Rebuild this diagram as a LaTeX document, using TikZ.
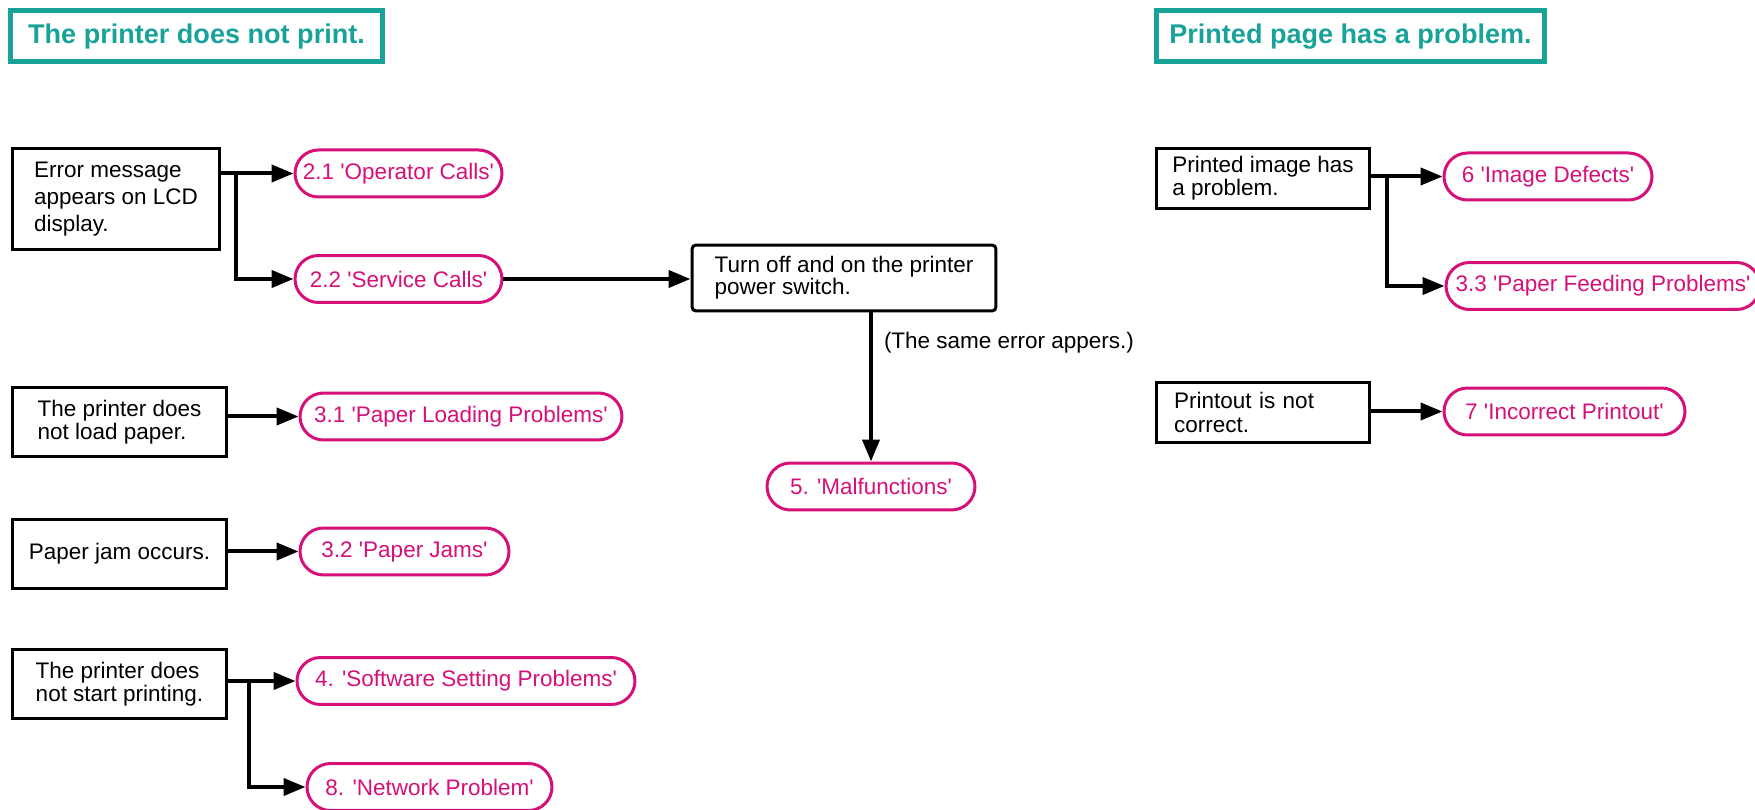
\documentclass[tikz,border=0pt]{standalone}
\usepackage{fontspec}
\setmainfont{Liberation Sans}
\usepackage{tikz}
\usetikzlibrary{arrows.meta,calc}
\definecolor{headteal}{RGB}{24,162,152}
\definecolor{refpink}{RGB}{214,16,120}
\newcommand{\pq}{\textquotesingle}

\begin{document}
\begin{tikzpicture}[x=0.02cm,y=-0.02cm,>={Triangle[length=0.44cm,width=0.34cm]},
  hdr/.style={draw=headteal,line width=0.1cm,text=headteal,font=\fontsize{15.4}{18}\selectfont\bfseries,minimum height=1.02cm,inner sep=0pt},
  box/.style={draw,line width=0.06cm,align=left,font=\fontsize{12.8}{13.2}\selectfont,inner sep=0pt},
  pill/.style={draw=refpink,line width=0.06cm,text=refpink,rounded corners=0.47cm,minimum height=0.94cm,inner sep=0pt,font=\fontsize{12.8}{13.2}\selectfont},
  arr/.style={->,line width=0.08cm}]
\useasboundingbox (0,0) rectangle (1755,810);
\node[hdr,minimum width=7.46cm] (notprint) at (196.5,36.5) {The printer does not print.};
\node[hdr,minimum width=7.78cm] (pageprob) at (1350.5,36.5) {Printed page has a problem.};

\node[box,minimum width=4.16cm,minimum height=2.04cm,font=\fontsize{12.8}{15.2}\selectfont] (err) at (116,199) {Error message\\appears on LCD\\display.};
\node[box,minimum width=4.3cm,minimum height=1.4cm] (load) at (119.5,422) {The printer does\\not load paper.};
\node[box,minimum width=4.3cm,minimum height=1.4cm,align=center] (jam) at (119.5,554) {Paper jam occurs.};
\node[box,minimum width=4.3cm,minimum height=1.4cm] (start) at (119.5,684) {The printer does\\not start printing.};
\node[box,minimum width=6.08cm,minimum height=1.32cm,rounded corners=0.08cm,font=\fontsize{12.8}{12.5}\selectfont] (off) at (844,278) {Turn off and on the printer\\power switch.};
\node[box,minimum width=4.28cm,minimum height=1.22cm] (img) at (1263,178.5) {Printed image has\\a problem.};
\node[box,text width=3.56cm,inner xsep=0.36cm,minimum height=1.22cm] (out) at (1263,412.5) {Printout is not\\correct.};

\node[pill,minimum width=4.14cm] (p21) at (398.5,173.5) {2.1 \pq Operator Calls\pq};
\node[pill,minimum width=4.14cm] (p22) at (398.5,279) {2.2 \pq Service Calls\pq};
\node[pill,minimum width=6.44cm] (p31) at (461,416.5) {3.1 \pq Paper Loading Problems\pq};
\node[pill,minimum width=4.18cm] (p32) at (404.5,551.5) {3.2 \pq Paper Jams\pq};
\node[pill,minimum width=6.76cm] (p4) at (466,681) {4. \pq Software Setting Problems\pq};
\node[pill,minimum width=4.9cm] (p8) at (429.5,787) {8. \pq Network Problem\pq};
\node[pill,minimum width=4.16cm] (p5) at (871,486.5) {5. \pq Malfunctions\pq};
\node[pill,minimum width=4.16cm] (p6) at (1548,176.5) {6 \pq Image Defects\pq};
\node[pill,minimum width=6.28cm] (p33) at (1603,286) {3.3 \pq Paper Feeding Problems\pq};
\node[pill,minimum width=4.82cm] (p7) at (1564.5,411.5) {7 \pq Incorrect Printout\pq};

\draw[arr] (err.east |- p21.west) -- (p21.west);
\draw[arr] ($(err.east |- p21.west)+(15,0)$) |- (p22.west);
\draw[arr] (p22.east) -- (p22.east -| off.west);
\draw[arr] (off.south -| p5.north) -- node[pos=0.2,anchor=west,inner sep=0pt,xshift=0.22cm,font=\fontsize{12.8}{13.2}\selectfont] (same) {(The same error appers.)} (p5.north);
\draw[arr] (load.east |- p31.west) -- (p31.west);
\draw[arr] (jam.east |- p32.west) -- (p32.west);
\draw[arr] (start.east |- p4.west) -- (p4.west);
\draw[arr] ($(start.east |- p4.west)+(21,0)$) |- (p8.west);
\draw[arr] (img.east |- p6.west) -- (p6.west);
\draw[arr] ($(img.east |- p6.west)+(16,0)$) |- (p33.west);
\draw[arr] (out.east |- p7.west) -- (p7.west);
\end{tikzpicture}
\end{document}
